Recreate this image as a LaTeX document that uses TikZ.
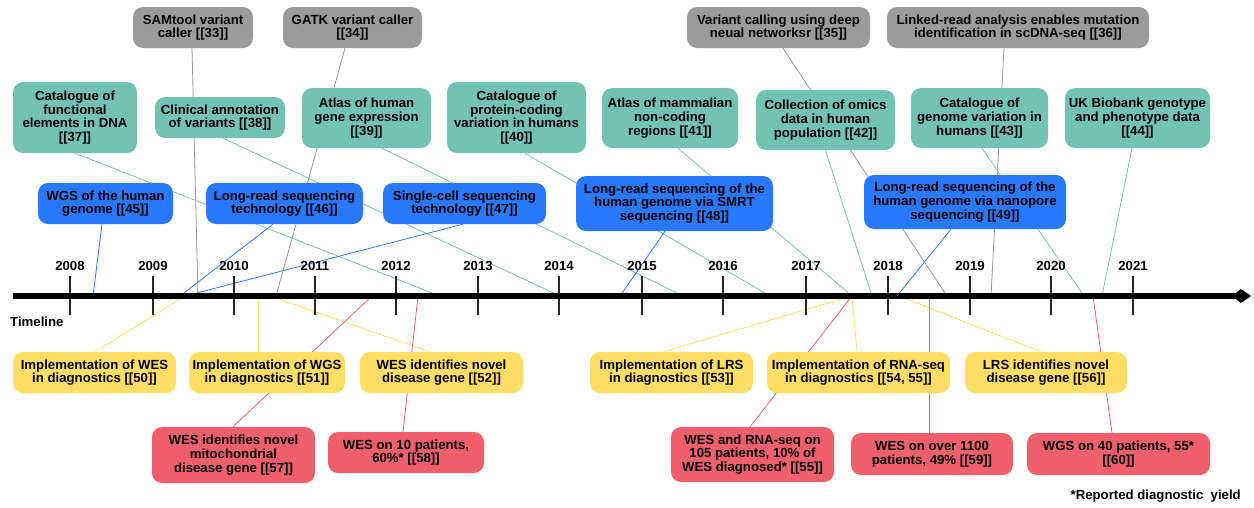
\documentclass[tikz,border=0pt]{standalone}
\usepackage{fontspec}
\setmainfont{Liberation Sans}
\usetikzlibrary{arrows.meta,backgrounds}
\definecolor{tealc}{RGB}{115,195,180}
\definecolor{greyc}{RGB}{155,155,155}
\definecolor{bluec}{RGB}{41,121,255}
\definecolor{yellowc}{RGB}{255,222,102}
\definecolor{redc}{RGB}{240,96,108}
\definecolor{greyline}{RGB}{150,150,150}
\begin{document}
\begin{tikzpicture}[x=1pt,y=-1pt,
  box/.style={rectangle, rounded corners=10pt, align=center, inner sep=0pt,
    font=\fontsize{13.2}{13.7}\selectfont\bfseries, text=black},
  gbox/.style={box, fill=greyc},
  tbox/.style={box, fill=tealc},
  bbox/.style={box, fill=bluec},
  ybox/.style={box, fill=yellowc},
  rbox/.style={box, fill=redc},
  lbl/.style={font=\fontsize{13.2}{13.7}\selectfont\bfseries, inner sep=0pt},
  conn/.style={line width=0.8pt},
  gl/.style={conn, draw=greyline},
  tl/.style={conn, draw=tealc},
  bl/.style={conn, draw=bluec},
  yl/.style={conn, draw=yellowc},
  rl/.style={conn, draw=redc},
  tick/.style={line width=1.2pt, draw=black!85}
]
\useasboundingbox (0,0) rectangle (1254,507);

% grey boxes
\node[gbox, minimum width=120pt, minimum height=41pt] (g33) at (193,27.5) {SAMtool variant\\caller [[33]]};
\node[gbox, minimum width=139pt, minimum height=41pt] (g34) at (352.5,27.5) {GATK variant caller\\{}[[34]]};
\node[gbox, minimum width=183pt, minimum height=41pt] (g35) at (778.5,27.5) {Variant calling using deep\\neual networksr [[35]]};
\node[gbox, minimum width=262pt, minimum height=41pt] (g36) at (1018,27.5) {Linked-read analysis enables mutation\\identification in scDNA-seq [[36]]};

% teal boxes
\node[tbox, minimum width=124pt, minimum height=71pt] (t37) at (75,117.5) {Catalogue of\\functional\\elements in DNA\\{}[[37]]};
\node[tbox, minimum width=130pt, minimum height=41pt] (t38) at (220,117.5) {Clinical annotation\\of variants [[38]]};
\node[tbox, minimum width=129pt, minimum height=60pt] (t39) at (366.5,118) {Atlas of human\\gene expression\\{}[[39]]};
\node[tbox, minimum width=139pt, minimum height=71pt] (t40) at (516.5,117.5) {Catalogue of\\protein-coding\\variation in humans\\{}[[40]]};
\node[tbox, minimum width=136pt, minimum height=60pt] (t41) at (670,118) {Atlas of mammalian\\non-coding\\regions [[41]]};
\node[tbox, minimum width=139pt, minimum height=60pt] (t42) at (825.5,120) {Collection of omics\\data in human\\population [[42]]};
\node[tbox, minimum width=137pt, minimum height=60pt] (t43) at (979.5,118) {Catalogue of\\genome variation in\\humans [[43]]};
\node[tbox, minimum width=145pt, minimum height=60pt] (t44) at (1137.5,118) {UK Biobank genotype\\and phenotype data\\{}[[44]]};

% blue boxes
\node[bbox, minimum width=135pt, minimum height=41pt] (b45) at (105.5,203.5) {WGS of the human\\genome [[45]]};
\node[bbox, minimum width=157pt, minimum height=41pt] (b46) at (284.5,203.5) {Long-read sequencing\\technology [[46]]};
\node[bbox, minimum width=163pt, minimum height=41pt] (b47) at (464.5,203.5) {Single-cell sequencing\\technology [[47]]};
\node[bbox, minimum width=197pt, minimum height=55pt] (b48) at (674.5,203.5) {Long-read sequencing of the\\human genome via SMRT\\sequencing [[48]]};
\node[bbox, minimum width=202pt, minimum height=54pt] (b49) at (965,202) {Long-read sequencing of the\\human genome via nanopore\\sequencing [[49]]};

% yellow boxes
\node[ybox, minimum width=163pt, minimum height=41pt] (y50) at (94.5,372.5) {Implementation of WES\\in diagnostics [[50]]};
\node[ybox, minimum width=156pt, minimum height=41pt] (y51) at (267,372.5) {Implementation of WGS\\in diagnostics [[51]]};
\node[ybox, minimum width=163pt, minimum height=41pt] (y52) at (441.5,372.5) {WES identifies novel\\disease gene [[52]]};
\node[ybox, minimum width=163pt, minimum height=41pt] (y53) at (671.5,372.5) {Implementation of LRS\\in diagnostics [[53]]};
\node[ybox, minimum width=183pt, minimum height=41pt] (y54) at (858.5,372.5) {Implementation of RNA-seq\\in diagnostics [[54, 55]]};
\node[ybox, minimum width=162pt, minimum height=41pt] (y56) at (1046,372.5) {LRS identifies novel\\disease gene [[56]]};

% red boxes
\node[rbox, minimum width=163pt, minimum height=56pt] (r57) at (233.5,455) {WES identifies novel\\mitochondrial\\disease gene [[57]]};
\node[rbox, minimum width=156pt, minimum height=41pt] (r58) at (406,452.5) {WES on 10 patients,\\60\%* [[58]]};
\node[rbox, minimum width=163pt, minimum height=55pt] (r55) at (752.5,454.5) {WES and RNA-seq on\\105 patients, 10\% of\\WES diagnosed* [[55]]};
\node[rbox, minimum width=162pt, minimum height=42pt] (r59) at (932,454) {WES on over 1100\\patients, 49\% [[59]]};
\node[rbox, minimum width=183pt, minimum height=42pt] (r60) at (1118.5,454) {WGS on 40 patients, 55*\\{}[[60]]};

% timeline
\coordinate (tlstart) at (13,296);
\coordinate (tlend) at (1251,296);
\foreach \yr/\xx in {2008/70,2009/153,2010/234,2011/315,2012/396,2013/478,2014/559,2015/642,2016/723,2017/806,2018/888,2019/970,2020/1051,2021/1133}{
  \draw[tick] (\xx,276) -- (\xx,315);
  \node[lbl] (yr\yr) at (\xx,266) {\yr};
}
\draw[line width=6pt, -{Kite[length=19pt,width=14pt,inset=9pt]}] (tlstart) -- (tlend);
\node[lbl, anchor=west] (tltext) at (10,322) {Timeline};
\node[lbl, anchor=east] (foot) at (1241,496) {*Reported diagnostic\ \ yield};

% timeline end points of connectors
\coordinate (p33) at (198,296);
\coordinate (p34) at (276,296);
\coordinate (p35) at (947,296);
\coordinate (p36) at (991,296);
\coordinate (p37) at (440,296);
\coordinate (p38) at (560,296);
\coordinate (p39) at (683,296);
\coordinate (p40) at (770,296);
\coordinate (p41) at (852,296);
\coordinate (p42) at (872,296);
\coordinate (p43) at (1084,296);
\coordinate (p44) at (1102,296);
\coordinate (p45) at (93,296);
\coordinate (p46) at (180,296);
\coordinate (p47) at (185,296);
\coordinate (p48) at (620,296);
\coordinate (p49) at (897,296);
\coordinate (p50) at (185,296);
\coordinate (p51) at (258,296);
\coordinate (p52) at (270,296);
\coordinate (p53) at (852,296);
\coordinate (p54) at (852,296);
\coordinate (p56) at (899,296);
\coordinate (p57) at (372,296);
\coordinate (p58) at (418,296);
\coordinate (p55) at (852,296);
\coordinate (p59) at (929,296);
\coordinate (p60) at (1093,296);

\begin{scope}[on background layer]
\draw[gl] ([xshift=-1pt]g33.south) -- (p33);
\draw[gl] ([xshift=-7.5pt]g34.south) -- (p34);
\draw[gl] ([xshift=4.5pt]g35.south) -- (p35);
\draw[gl] ([xshift=-14pt]g36.south) -- (p36);
\draw[tl] (t37.south) -- (p37);
\draw[tl] ([xshift=3pt]t38.south) -- (p38);
\draw[tl] ([xshift=15.5pt]t39.south) -- (p39);
\draw[tl] ([xshift=8.5pt]t40.south) -- (p40);
\draw[tl] ([xshift=8pt]t41.south) -- (p41);
\draw[tl] ([xshift=0pt]t42.south) -- (p42);
\draw[tl] ([xshift=2.5pt]t43.south) -- (p43);
\draw[tl] ([xshift=-5.5pt]t44.south) -- (p44);
\draw[bl] ([xshift=-3.5pt]b45.south) -- (p45);
\draw[bl] ([xshift=-11.5pt]b46.south) -- (p46);
\draw[bl] ([xshift=-1.5pt]b47.south) -- (p47);
\draw[bl] ([xshift=-9.5pt]b48.south) -- (p48);
\draw[bl] ([xshift=-14pt]b49.south) -- (p49);
\draw[yl] ([xshift=0.5pt]y50.north) -- (p50);
\draw[yl] ([xshift=-9pt]y51.north) -- (p51);
\draw[yl] ([xshift=-11.5pt]y52.north) -- (p52);
\draw[yl] ([xshift=-8.5pt]y53.north) -- (p53);
\draw[yl] ([xshift=-1.5pt]y54.north) -- (p54);
\draw[yl] ([xshift=-5pt]y56.north) -- (p56);
\draw[rl] ([xshift=-0.5pt]r57.north) -- (p57);
\draw[rl] ([xshift=-3pt]r58.north) -- (p58);
\draw[rl] ([xshift=-2.5pt]r55.north) -- (p55);
\draw[rl] ([xshift=-3pt]r59.north) -- (p59);
\draw[rl] ([xshift=-6.5pt]r60.north) -- (p60);
\end{scope}
\end{tikzpicture}
\end{document}
